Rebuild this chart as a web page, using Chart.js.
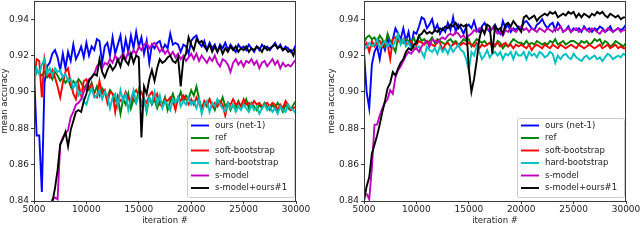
<!DOCTYPE html>
<html>
<head>
<meta charset="utf-8">
<script src="https://cdn.jsdelivr.net/npm/chart.js@4/dist/chart.umd.min.js"></script>
<style>
  html, body { margin: 0; padding: 0; background: #fff; }
  .panel { position: absolute; top: 0; width: 320px; height: 247px; }
</style>
</head>
<body>
<div class="panel" style="left:0"><canvas id="left" width="320" height="247"></canvas></div>
<div class="panel" style="left:320px"><canvas id="right" width="320" height="247"></canvas></div>
<script>
const seriesNames = ['ours (net-1)', 'ref', 'soft-bootstrap', 'hard-bootstrap', 's-model', 's-model+ours#1'];
const seriesColors = ['#0000ff', '#008000', '#ff0000', '#00bfbf', '#bf00bf', '#000000'];
const xTicks = [5000, 10000, 15000, 20000, 25000, 30000];
const yTicks = [0.84, 0.86, 0.88, 0.90, 0.92, 0.94];

const iterations = [
  5000, 5250, 5500, 5750, 6000, 6250, 6500, 6750, 7000, 7250,
  7500, 7750, 8000, 8250, 8500, 8750, 9000, 9250, 9500, 9750,
  10000, 10250, 10500, 10750, 11000, 11250, 11500, 11750, 12000, 12250,
  12500, 12750, 13000, 13250, 13500, 13750, 14000, 14250, 14500, 14750,
  15000, 15250, 15500, 15750, 16000, 16250, 16500, 16750, 17000, 17250,
  17500, 17750, 18000, 18250, 18500, 18750, 19000, 19250, 19500, 19750,
  20000, 20250, 20500, 20750, 21000, 21250, 21500, 21750, 22000, 22250,
  22500, 22750, 23000, 23250, 23500, 23750, 24000, 24250, 24500, 24750,
  25000, 25250, 25500, 25750, 26000, 26250, 26500, 26750, 27000, 27250,
  27500, 27750, 28000, 28250, 28500, 28750, 29000, 29250, 29500, 29750,
  30000
];

// left panel
const leftOurs = [
  0.912, 0.876, 0.876, 0.845, 0.905, 0.914, 0.916, 0.921, 0.923, 0.919,
  0.912, 0.921, 0.913, 0.922, 0.917, 0.926, 0.918, 0.921, 0.925, 0.919,
  0.927, 0.920, 0.925, 0.923, 0.929, 0.928, 0.916, 0.925, 0.927, 0.920,
  0.930, 0.921, 0.926, 0.931, 0.920, 0.929, 0.922, 0.931, 0.924, 0.933,
  0.925, 0.930, 0.921, 0.928, 0.916, 0.926, 0.924, 0.927, 0.928, 0.923,
  0.926, 0.924, 0.932, 0.926, 0.927, 0.926, 0.922, 0.926, 0.925, 0.921,
  0.928, 0.930, 0.931, 0.927, 0.925, 0.928, 0.923, 0.927, 0.924, 0.926,
  0.922, 0.926, 0.924, 0.927, 0.923, 0.926, 0.924, 0.922, 0.926, 0.924,
  0.925, 0.923, 0.926, 0.924, 0.922, 0.925, 0.923, 0.926, 0.924, 0.925,
  0.923, 0.925, 0.927, 0.924, 0.926, 0.923, 0.925, 0.924, 0.922, 0.923,
  0.926
];
const leftRef = [
  0.906, 0.912, 0.910, 0.909, 0.911, 0.908, 0.910, 0.907, 0.911, 0.909,
  0.906, 0.908, 0.905, 0.907, 0.903, 0.906, 0.904, 0.907, 0.905, 0.902,
  0.904, 0.901, 0.905, 0.899, 0.903, 0.898, 0.902, 0.900, 0.897, 0.901,
  0.899, 0.895, 0.897, 0.888, 0.896, 0.893, 0.899, 0.891, 0.896, 0.894,
  0.901, 0.893, 0.896, 0.889, 0.897, 0.893, 0.896, 0.891, 0.895, 0.893,
  0.897, 0.890, 0.895, 0.899, 0.894, 0.896, 0.900, 0.895, 0.898, 0.896,
  0.901, 0.898, 0.903, 0.896, 0.891, 0.894, 0.892, 0.896, 0.893, 0.890,
  0.895, 0.893, 0.897, 0.892, 0.894, 0.890, 0.893, 0.891, 0.895, 0.892,
  0.893, 0.896, 0.891, 0.894, 0.892, 0.890, 0.893, 0.891, 0.894, 0.892,
  0.890, 0.893, 0.891, 0.894, 0.892, 0.889, 0.893, 0.891, 0.890, 0.893,
  0.895
];
const leftSoft = [
  0.905, 0.918, 0.917, 0.897, 0.918, 0.910, 0.908, 0.912, 0.908, 0.903,
  0.897, 0.905, 0.911, 0.913, 0.905, 0.899, 0.896, 0.904, 0.898, 0.906,
  0.907, 0.902, 0.904, 0.898, 0.897, 0.906, 0.899, 0.901, 0.894, 0.900,
  0.899, 0.889, 0.898, 0.895, 0.896, 0.900, 0.897, 0.894, 0.899, 0.901,
  0.898, 0.900, 0.896, 0.894, 0.898, 0.900, 0.896, 0.899, 0.893, 0.892,
  0.896, 0.895, 0.897, 0.895, 0.890, 0.897, 0.895, 0.898, 0.896, 0.893,
  0.896, 0.893, 0.897, 0.894, 0.890, 0.895, 0.893, 0.896, 0.892, 0.894,
  0.892, 0.895, 0.893, 0.887, 0.894, 0.893, 0.896, 0.893, 0.894, 0.892,
  0.896, 0.893, 0.894, 0.892, 0.895, 0.893, 0.894, 0.892, 0.893, 0.894,
  0.892, 0.894, 0.893, 0.890, 0.893, 0.891, 0.895, 0.893, 0.890, 0.891,
  0.892
];
const leftHard = [
  0.905, 0.913, 0.910, 0.915, 0.918, 0.910, 0.913, 0.909, 0.913, 0.911,
  0.912, 0.908, 0.910, 0.906, 0.907, 0.902, 0.905, 0.898, 0.900, 0.895,
  0.893, 0.898, 0.902, 0.897, 0.898, 0.901, 0.896, 0.900, 0.898, 0.891,
  0.897, 0.899, 0.892, 0.901, 0.895, 0.899, 0.890, 0.896, 0.901, 0.894,
  0.898, 0.893, 0.896, 0.890, 0.897, 0.894, 0.900, 0.893, 0.898, 0.891,
  0.895, 0.893, 0.890, 0.896, 0.894, 0.897, 0.892, 0.895, 0.893, 0.897,
  0.893, 0.895, 0.891, 0.896, 0.888, 0.893, 0.895, 0.889, 0.894, 0.892,
  0.896, 0.893, 0.891, 0.889, 0.894, 0.891, 0.893, 0.889, 0.892, 0.890,
  0.893, 0.891, 0.889, 0.893, 0.890, 0.892, 0.888, 0.891, 0.893, 0.890,
  0.892, 0.889, 0.891, 0.888, 0.892, 0.890, 0.889, 0.893, 0.891, 0.890,
  0.888
];
const leftSModel = [
  null, null, null, null, null, null, 0.834, 0.841, 0.842, 0.841,
  0.871, 0.875, 0.877, 0.879, 0.886, 0.889, 0.893, 0.894, 0.896, 0.900,
  0.903, 0.907, 0.908, 0.910, 0.914, 0.916, 0.913, 0.916, 0.915, 0.918,
  0.916, 0.920, 0.917, 0.919, 0.921, 0.918, 0.922, 0.920, 0.923, 0.921,
  0.925, 0.923, 0.926, 0.927, 0.924, 0.926, 0.927, 0.925, 0.922, 0.924,
  0.921, 0.923, 0.920, 0.922, 0.919, 0.921, 0.918, 0.920, 0.917, 0.919,
  0.921, 0.918, 0.921, 0.917, 0.920, 0.918, 0.916, 0.919, 0.917, 0.920,
  0.916, 0.914, 0.918, 0.917, 0.915, 0.911, 0.916, 0.918, 0.915, 0.917,
  0.914, 0.917, 0.916, 0.918, 0.915, 0.917, 0.913, 0.916, 0.917, 0.914,
  0.916, 0.918, 0.915, 0.917, 0.913, 0.916, 0.914, 0.915, 0.914, 0.916,
  0.918
];
const leftSModelOurs = [
  null, null, null, null, null, null, 0.826, 0.839, 0.847, 0.857,
  0.871, 0.874, 0.878, 0.870, 0.879, 0.884, 0.889, 0.890, 0.889, 0.895,
  0.899, 0.906, 0.908, 0.910, 0.909, 0.918, 0.911, 0.908, 0.912, 0.915,
  0.912, 0.914, 0.918, 0.914, 0.920, 0.917, 0.915, 0.921, 0.916, 0.920,
  0.919, 0.875, 0.903, 0.899, 0.907, 0.912, 0.906, 0.913, 0.918, 0.916,
  0.917, 0.919, 0.920, 0.917, 0.916, 0.919, 0.903, 0.918, 0.921, 0.930,
  0.926, 0.923, 0.929, 0.927, 0.928, 0.925, 0.923, 0.926, 0.922, 0.925,
  0.922, 0.925, 0.921, 0.924, 0.922, 0.925, 0.923, 0.925, 0.922, 0.924,
  0.923, 0.925, 0.922, 0.924, 0.923, 0.925, 0.924, 0.922, 0.925, 0.923,
  0.924, 0.925, 0.926, 0.924, 0.925, 0.923, 0.924, 0.922, 0.923, 0.920,
  0.925
];

// right panel
const rightOurs = [
  0.922, 0.900, 0.891, 0.915, 0.922, 0.925, 0.918, 0.927, 0.923, 0.930,
  0.925, 0.929, 0.935, 0.932, 0.929, 0.935, 0.928, 0.933, 0.925, 0.933,
  0.932, 0.936, 0.941, 0.940, 0.935, 0.937, 0.940, 0.934, 0.937, 0.932,
  0.935, 0.933, 0.938, 0.934, 0.941, 0.933, 0.937, 0.935, 0.932, 0.936,
  0.937, 0.935, 0.939, 0.934, 0.933, 0.936, 0.938, 0.935, 0.933, 0.935,
  0.937, 0.934, 0.932, 0.939, 0.935, 0.937, 0.933, 0.935, 0.934, 0.936,
  0.935, 0.938, 0.939, 0.937, 0.935, 0.934, 0.937, 0.938, 0.940, 0.937,
  0.935, 0.937, 0.938, 0.934, 0.938, 0.936, 0.933, 0.934, 0.936, 0.933,
  0.935, 0.934, 0.935, 0.933, 0.936, 0.934, 0.935, 0.933, 0.935, 0.934,
  0.936, 0.935, 0.933, 0.934, 0.936, 0.933, 0.934, 0.935, 0.934, 0.935,
  0.937
];
const rightRef = [
  0.927, 0.930, 0.931, 0.929, 0.930, 0.927, 0.931, 0.929, 0.925, 0.932,
  0.928, 0.925, 0.922, 0.930, 0.928, 0.927, 0.929, 0.928, 0.927, 0.930,
  0.926, 0.931, 0.928, 0.929, 0.927, 0.928, 0.930, 0.927, 0.929, 0.928,
  0.927, 0.926, 0.928, 0.929, 0.927, 0.928, 0.926, 0.927, 0.929, 0.928,
  0.929, 0.925, 0.927, 0.929, 0.928, 0.927, 0.928, 0.926, 0.927, 0.925,
  0.925, 0.928, 0.927, 0.924, 0.926, 0.925, 0.927, 0.929, 0.928, 0.927,
  0.927, 0.926, 0.928, 0.926, 0.927, 0.926, 0.928, 0.927, 0.926, 0.927,
  0.926, 0.928, 0.927, 0.929, 0.926, 0.927, 0.928, 0.926, 0.927, 0.928,
  0.928, 0.927, 0.926, 0.928, 0.927, 0.928, 0.926, 0.927, 0.929, 0.928,
  0.929, 0.926, 0.928, 0.927, 0.925, 0.926, 0.928, 0.927, 0.926, 0.925,
  0.927
];
const rightSoft = [
  0.925, 0.927, 0.922, 0.928, 0.925, 0.927, 0.928, 0.925, 0.927, 0.926,
  0.918, 0.929, 0.930, 0.928, 0.927, 0.929, 0.926, 0.927, 0.928, 0.924,
  0.926, 0.928, 0.927, 0.926, 0.928, 0.927, 0.926, 0.925, 0.928, 0.927,
  0.923, 0.926, 0.927, 0.925, 0.926, 0.927, 0.925, 0.926, 0.927, 0.926,
  0.927, 0.926, 0.925, 0.927, 0.924, 0.926, 0.925, 0.926, 0.927, 0.925,
  0.926, 0.927, 0.925, 0.926, 0.927, 0.925, 0.926, 0.924, 0.926, 0.925,
  0.926, 0.925, 0.924, 0.926, 0.923, 0.925, 0.926, 0.925, 0.924, 0.926,
  0.925, 0.924, 0.926, 0.925, 0.924, 0.926, 0.925, 0.924, 0.925, 0.926,
  0.925, 0.924, 0.926, 0.925, 0.924, 0.925, 0.926, 0.925, 0.924, 0.925,
  0.926, 0.924, 0.925, 0.926, 0.924, 0.925, 0.926, 0.924, 0.925, 0.924,
  0.924
];
const rightHard = [
  0.923, 0.925, 0.927, 0.925, 0.926, 0.929, 0.924, 0.926, 0.928, 0.925,
  0.927, 0.925, 0.928, 0.932, 0.926, 0.929, 0.925, 0.927, 0.924, 0.926,
  0.924, 0.925, 0.922, 0.919, 0.925, 0.923, 0.922, 0.924, 0.921, 0.925,
  0.922, 0.924, 0.921, 0.925, 0.922, 0.924, 0.926, 0.923, 0.922, 0.918,
  0.912, 0.922, 0.920, 0.925, 0.922, 0.918, 0.920, 0.923, 0.919, 0.921,
  0.922, 0.920, 0.922, 0.918, 0.921, 0.920, 0.922, 0.918, 0.922, 0.920,
  0.920, 0.922, 0.918, 0.922, 0.920, 0.921, 0.919, 0.922, 0.921, 0.919,
  0.920, 0.922, 0.921, 0.916, 0.920, 0.918, 0.920, 0.921, 0.919, 0.918,
  0.921, 0.919, 0.918, 0.917, 0.919, 0.920, 0.918, 0.919, 0.920, 0.918,
  0.919, 0.917, 0.919, 0.921, 0.920, 0.918, 0.919, 0.920, 0.919, 0.921,
  0.920
];
const rightSModel = [
  null, 0.844, 0.841, 0.858, 0.882, 0.882, 0.887, 0.891, 0.894, 0.896,
  0.901, 0.899, 0.908, 0.912, 0.914, 0.917, 0.920, 0.922, 0.921, 0.923,
  0.924, 0.922, 0.925, 0.927, 0.928, 0.925, 0.929, 0.928, 0.927, 0.929,
  0.930, 0.929, 0.931, 0.932, 0.931, 0.933, 0.932, 0.930, 0.931, 0.929,
  0.931, 0.932, 0.934, 0.933, 0.935, 0.934, 0.933, 0.935, 0.934, 0.935,
  0.934, 0.932, 0.933, 0.931, 0.934, 0.933, 0.935, 0.934, 0.933, 0.935,
  0.936, 0.934, 0.935, 0.933, 0.935, 0.934, 0.933, 0.935, 0.934, 0.933,
  0.935, 0.934, 0.933, 0.935, 0.934, 0.936, 0.933, 0.934, 0.935, 0.933,
  0.934, 0.935, 0.933, 0.934, 0.935, 0.934, 0.933, 0.935, 0.934, 0.933,
  0.932, 0.934, 0.933, 0.935, 0.934, 0.933, 0.934, 0.935, 0.933, 0.934,
  0.934
];
const rightSModelOurs = [
  0.840, 0.848, 0.853, 0.866, 0.871, 0.876, 0.882, 0.889, 0.895, 0.902,
  0.905, 0.911, 0.909, 0.913, 0.916, 0.918, 0.922, 0.924, 0.923, 0.926,
  0.927, 0.931, 0.932, 0.934, 0.932, 0.933, 0.932, 0.934, 0.933, 0.935,
  0.934, 0.936, 0.935, 0.937, 0.936, 0.938, 0.935, 0.937, 0.936, 0.937,
  0.913, 0.900, 0.907, 0.917, 0.929, 0.935, 0.932, 0.937, 0.936, 0.921,
  0.936, 0.934, 0.935, 0.932, 0.937, 0.938, 0.936, 0.939, 0.937, 0.935,
  0.933, 0.941, 0.942, 0.940, 0.941, 0.942, 0.939, 0.941, 0.942, 0.943,
  0.942, 0.944, 0.943, 0.944, 0.941, 0.942, 0.943, 0.942, 0.944, 0.943,
  0.944, 0.941, 0.943, 0.941, 0.943, 0.942, 0.941, 0.943, 0.942, 0.944,
  0.943, 0.944, 0.942, 0.941, 0.943, 0.942, 0.941, 0.942, 0.940, 0.941,
  0.941
];

const FONT = 'DejaVu Sans';

// frame around the plot area + legend box in the lower right corner
const framePlugin = {
  id: 'frame',
  afterDraw(chart) {
    const { ctx, chartArea: a } = chart;
    ctx.save();
    ctx.strokeStyle = '#3a3a3a';
    ctx.lineWidth = 1;
    ctx.strokeRect(Math.round(a.left) + 0.5, Math.round(a.top) + 0.5,
      Math.round(a.right - a.left) - 1, Math.round(a.bottom - a.top));

    const w = 107, h = 79, rowH = 12.5;
    const x0 = a.right - 2 - w, y0 = a.bottom - 4 - h;
    ctx.fillStyle = 'rgba(255,255,255,0.85)';
    ctx.strokeStyle = '#cccccc';
    ctx.beginPath();
    ctx.roundRect(x0 + 0.5, y0 + 0.5, w, h, 2);
    ctx.fill();
    ctx.stroke();

    ctx.font = '8.5px "' + FONT + '"';
    ctx.textBaseline = 'middle';
    chart.data.datasets.forEach((ds, i) => {
      const y = y0 + 7.5 + i * rowH;
      ctx.strokeStyle = ds.borderColor;
      ctx.lineWidth = 1.9;
      ctx.beginPath();
      ctx.moveTo(x0 + 4, y);
      ctx.lineTo(x0 + 22, y);
      ctx.stroke();
      ctx.fillStyle = '#222';
      ctx.fillText(ds.label, x0 + 28, y);
    });
    ctx.restore();
  }
};

function makeChart(id, series, padLeft, yWidth, padRight) {
  return new Chart(document.getElementById(id), {
    type: 'line',
    data: {
      datasets: series.map((vals, i) => ({
        label: seriesNames[i],
        data: vals.map((v, j) => ({ x: iterations[j], y: v })),
        borderColor: seriesColors[i],
        borderWidth: 1.9,
        pointRadius: 0,
        tension: 0,
        fill: false,
        order: series.length - i
      }))
    },
    options: {
      responsive: false,
      animation: false,
      events: [],
      layout: { padding: { left: padLeft, right: padRight, top: 1, bottom: 21 } },
      plugins: { legend: { display: false }, tooltip: { enabled: false } },
      scales: {
        x: {
          type: 'linear',
          min: 5000,
          max: 30000,
          afterBuildTicks: s => { s.ticks = xTicks.map(v => ({ value: v })); },
          afterFit: s => { s.height = 25; s.paddingLeft = 0; s.paddingRight = 0; },
          border: { display: false },
          grid: { drawOnChartArea: false, drawTicks: true, tickLength: 3, color: '#3a3a3a' },
          ticks: {
            padding: 0, color: '#222', maxRotation: 0, autoSkip: false,
            font: { family: FONT, size: 9 },
            callback: v => String(v)
          },
          title: { display: true, text: 'iteration #', color: '#222', padding: 0,
                   font: { family: FONT, size: 8.5 } }
        },
        y: {
          min: 0.84,
          max: 0.95,
          afterBuildTicks: s => { s.ticks = yTicks.map(v => ({ value: v })); },
          afterFit: s => { s.width = yWidth; s.paddingTop = 0; s.paddingBottom = 0; },
          border: { display: false },
          grid: { drawOnChartArea: false, drawTicks: true, tickLength: 3, color: '#3a3a3a' },
          ticks: {
            padding: 2, color: '#222',
            font: { family: FONT, size: 9 },
            callback: v => v.toFixed(2)
          },
          title: { display: true, text: 'mean accuracy', color: '#222', padding: 0,
                   font: { family: FONT, size: 8.5 } }
        }
      }
    },
    plugins: [framePlugin]
  });
}

makeChart('left', [leftOurs, leftRef, leftSoft, leftHard, leftSModel, leftSModelOurs], 0, 34, 24);
makeChart('right', [rightOurs, rightRef, rightSoft, rightHard, rightSModel, rightSModelOurs], 7, 37, 14);
</script>
</body>
</html>
